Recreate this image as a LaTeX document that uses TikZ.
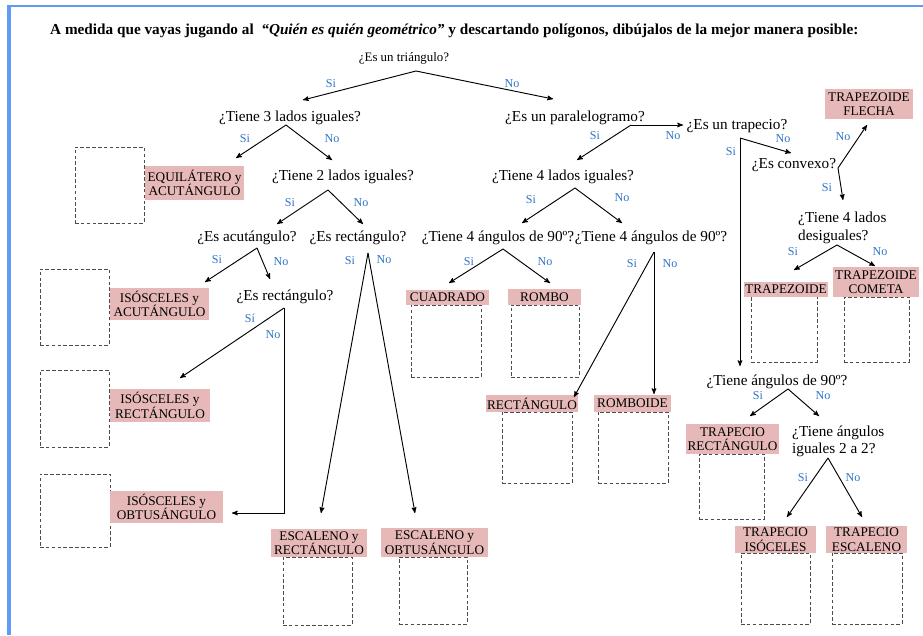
\documentclass[tikz,border=0pt]{standalone}
\usepackage{fontspec}
\setmainfont{Liberation Serif}
\usetikzlibrary{arrows}

\definecolor{rosa}{RGB}{230,184,183}
\definecolor{azul}{RGB}{46,116,198}
\definecolor{marco}{RGB}{95,155,245}

\begin{document}
\begin{tikzpicture}[x=0.03cm, y=-0.03cm,
    >=stealth',
    flecha/.style = {->, thick},
    preg/.style = {
      font = \fontsize{13}{15.3}\selectfont,
      inner sep = 0pt,
      anchor = base
    },
    resp/.style = {
      font = \fontsize{10.3}{11}\selectfont,
      text = azul,
      inner sep = 0pt
    },
    fig/.style 2 args = {
      fill = rosa,
      inner sep = 0pt,
      align = center,
      font = \fontsize{11.3}{12.5}\selectfont,
      minimum width = #1*0.03cm,
      minimum height = #2*0.03cm
    },
    hueco/.style 2 args = {
      draw = black!70,
      dash pattern = on 3pt off 2pt,
      line width = 0.6pt,
      inner sep = 0pt,
      minimum width = #1*0.03cm,
      minimum height = #2*0.03cm
    }
  ]
  \useasboundingbox (0,0) rectangle (923,635);

  % marco
  \draw[marco, line width=2.5pt] (8,6) -- (923,6);
  \draw[marco, line width=3.4pt] (9,5) -- (9,635);

  \node[anchor=base west, inner sep=0pt, font=\fontsize{13}{15}\selectfont\bfseries] (titulo) at (50,34)
    {A medida que vayas jugando al\ \ \textit{“Quién es quién geométrico”} y descartando polígonos, dibújalos de la mejor manera posible:};

  % huecos para dibujar
  \node[hueco={69}{76}] (h1)  at (109.5,185) {};
  \node[hueco={69}{76}] (h2)  at (74.5,307) {};
  \node[hueco={69}{77}] (h3)  at (74.5,408.5) {};
  \node[hueco={70}{73}] (h4)  at (75,510.5) {};
  \node[hueco={69}{68}] (h5)  at (317.5,591) {};
  \node[hueco={68}{67}] (h6)  at (433,590.5) {};
  \node[hueco={70}{72}] (h7)  at (446,341) {};
  \node[hueco={68}{72}] (h8)  at (545,341) {};
  \node[hueco={70}{71}] (h9)  at (537,447.5) {};
  \node[hueco={70}{71}] (h10) at (633,447.5) {};
  \node[hueco={66}{66}] (h11) at (784,329) {};
  \node[hueco={65}{65}] (h12) at (876.5,329.5) {};
  \node[hueco={65}{65}] (h13) at (731.5,486.5) {};
  \node[hueco={69}{71}] (h14) at (775.5,588.5) {};
  \node[hueco={70}{71}] (h15) at (867,588.5) {};

  % figuras
  \node[fig={99}{34}]  (equi)  at (194.5,183) {EQUILÁTERO y\\ACUTÁNGULO};
  \node[fig={99}{32}]  (isoA)  at (159.5,304) {ISÓSCELES y\\ACUTÁNGULO};
  \node[fig={100}{33}] (isoR)  at (160,405.5) {ISÓSCELES y\\RECTÁNGULO};
  \node[fig={113}{32}] (isoO)  at (166.5,507) {ISÓSCELES y\\OBTUSÁNGULO};
  \node[fig={96}{28}]  (escR)  at (319,543)   {ESCALENO y\\RECTÁNGULO};
  \node[fig={107}{29}] (escO)  at (434.5,542.5) {ESCALENO y\\OBTUSÁNGULO};
  \node[fig={83}{15}]  (cuad)  at (447.5,297.5) {CUADRADO};
  \node[fig={73}{16}]  (rombo) at (544.5,297) {ROMBO};
  \node[fig={92}{17}]  (rect)  at (532,403.5) {RECTÁNGULO};
  \node[fig={77}{17}]  (romb)  at (632.5,403.5) {ROMBOIDE};
  \node[fig={84}{15}]  (tzd)   at (786,289.5) {TRAPEZOIDE};
  \node[fig={86}{30}]  (tzc)   at (876,282)   {TRAPEZOIDE\\COMETA};
  \node[fig={88}{30}]  (tzf)   at (869,104)   {TRAPEZOIDE\\FLECHA};
  \node[fig={93}{30}]  (tpr)   at (732.5,439) {TRAPECIO\\RECTÁNGULO};
  \node[fig={81}{27}]  (tpi)   at (775.5,539.5) {TRAPECIO\\ISÓCELES};
  \node[fig={81}{27}]  (tpe)   at (866.5,539.5) {TRAPECIO\\ESCALENO};

  % preguntas
  \node[preg, font=\fontsize{11}{13}\selectfont] (q1) at (404,61) {¿Es un triángulo?};
  \node[preg] (q2)  at (290,121) {¿Tiene 3 lados iguales?};
  \node[preg] (q3)  at (343,180) {¿Tiene 2 lados iguales?};
  \node[preg] (q4)  at (247,241) {¿Es acutángulo?};
  \node[preg] (q5)  at (358,241) {¿Es rectángulo?};
  \node[preg] (q6)  at (285,300) {¿Es rectángulo?};
  \node[preg] (q7)  at (575,121) {¿Es un paralelogramo?};
  \node[preg] (q8)  at (563,180) {¿Tiene 4 lados iguales?};
  \node[preg] (q9)  at (498,241) {¿Tiene 4 ángulos de 90º?};
  \node[preg] (q10) at (651,241) {¿Tiene 4 ángulos de 90º?};
  \node[preg] (q11) at (737,129) {¿Es un trapecio?};
  \node[preg] (q12) at (794,168) {¿Es convexo?};
  \node[preg, anchor=north west, align=left] (q13) at (798,211.6) {¿Tiene 4 lados\\desiguales?};
  \node[preg] (q14) at (777,385) {¿Tiene ángulos de 90º?};
  \node[preg, anchor=north west, align=left, font=\fontsize{13}{14.5}\selectfont] (q15) at (792,425.6) {¿Tiene ángulos\\iguales 2 a 2?};

  % vertices y extremos de las flechas
  \coordinate (v1) at (416,71);   \coordinate (s1) at (303,100);  \coordinate (n1) at (553,99);
  \coordinate (v2) at (286,125);  \coordinate (s2) at (236,158);  \coordinate (n2) at (332,160);
  \coordinate (v3) at (328,190);  \coordinate (s3) at (277,224);  \coordinate (n3) at (363,224);
  \coordinate (v4) at (257,248);  \coordinate (s4) at (205,282);  \coordinate (n4) at (270,279);
  \coordinate (v5) at (368,253);  \coordinate (s5) at (321,513);  \coordinate (n5) at (415,513);
  \coordinate (v6) at (284,308);  \coordinate (s6) at (180,378);  \coordinate (n6) at (232,513);
  \coordinate (v7) at (631,125);  \coordinate (s7) at (577,160);  \coordinate (n7) at (683,125);
  \coordinate (v8) at (575,188);  \coordinate (s8) at (522,223);  \coordinate (n8) at (622,223);
  \coordinate (v9) at (503,249);  \coordinate (s9) at (449,283);  \coordinate (n9) at (550,283);
  \coordinate (v10) at (654,252); \coordinate (s10) at (574,397); \coordinate (n10) at (654,394);
  \coordinate (v11) at (740,138); \coordinate (s11) at (740,366); \coordinate (n11) at (791,153);
  \coordinate (v12) at (838,168); \coordinate (s12) at (843,200); \coordinate (n12) at (867,125);
  \coordinate (v13) at (837,245); \coordinate (s13) at (794,270); \coordinate (n13) at (875,266);
  \coordinate (v14) at (788,389); \coordinate (s14) at (750,416); \coordinate (n14) at (819,416);
  \coordinate (v15) at (828,458); \coordinate (s15) at (787,517); \coordinate (n15) at (862,517);

  \foreach \i in {1,...,5,7,8,9,10,11,12,13,14,15} {
    \draw[flecha] (v\i) -- (s\i);
    \draw[flecha] (v\i) -- (n\i);
  }
  \draw[flecha] (v6) -- (s6);
  \draw[flecha] (v6) |- (n6);

  % respuestas
  \node[resp] (r1s)  at (331,84)  {Si};  \node[resp] (r1n)  at (512,84)  {No};
  \node[resp] (r2s)  at (245,139) {Si};  \node[resp] (r2n)  at (332,139) {No};
  \node[resp] (r3s)  at (290,203) {Si};  \node[resp] (r3n)  at (361,203) {No};
  \node[resp] (r4s)  at (217,260) {Si};  \node[resp] (r4n)  at (281,262) {No};
  \node[resp] (r5s)  at (350,261) {Si};  \node[resp] (r5n)  at (384,260) {No};
  \node[resp] (r6s)  at (250,318) {Sí};  \node[resp] (r6n)  at (273,335) {No};
  \node[resp] (r7s)  at (595,136) {Si};  \node[resp] (r7n)  at (673,136) {No};
  \node[resp] (r8s)  at (531,200) {Si};  \node[resp] (r8n)  at (622,198) {No};
  \node[resp] (r9s)  at (469,262) {Si};  \node[resp] (r9n)  at (545,262) {No};
  \node[resp] (r10s) at (632,264) {Si};  \node[resp] (r10n) at (670,264) {No};
  \node[resp] (r11s) at (731,152) {Si};  \node[resp] (r11n) at (783,139) {No};
  \node[resp] (r12s) at (827,188) {Si};  \node[resp] (r12n) at (843,137) {No};
  \node[resp] (r13s) at (793,252) {Si};  \node[resp] (r13n) at (880,252) {No};
  \node[resp] (r14s) at (758,396) {Si};  \node[resp] (r14n) at (823,396) {No};
  \node[resp] (r15s) at (803,478) {Si};  \node[resp] (r15n) at (853,478) {No};
\end{tikzpicture}
\end{document}
